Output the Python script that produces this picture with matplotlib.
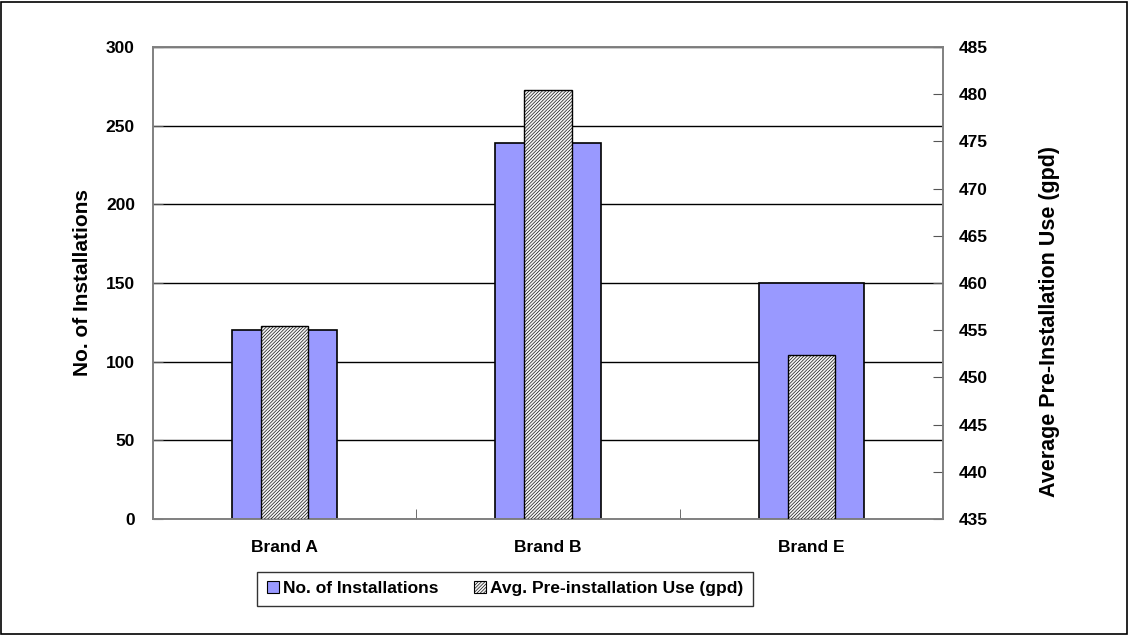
import matplotlib.pyplot as plt
import numpy as np
from matplotlib.patches import Rectangle, Patch

brands = ['Brand A', 'Brand B', 'Brand E']
installations = [120, 239, 150]
avg_use = [455.4, 480.4, 452.4]
use_base = 435

plt.rcParams['font.family'] = ['Liberation Sans', 'DejaVu Sans']
plt.rcParams['font.weight'] = 'bold'
plt.rcParams['hatch.color'] = '#333333'
plt.rcParams['hatch.linewidth'] = 0.45

fig = plt.figure(figsize=(11.29, 6.35), dpi=100)
ax = fig.add_axes([0.1355, 0.1827, 0.6998, 0.7433])
x = np.arange(len(brands))

# gridlines behind the bars
ax.set_axisbelow(True)
ax.yaxis.grid(True, color='black', linewidth=1)
ax.bar(x, installations, width=0.4, color='#9999FF', edgecolor='black',
       linewidth=1.2, zorder=2)

ax2 = ax.twinx()
ax2.bar(x, np.array(avg_use) - use_base, bottom=use_base, width=0.18,
        color='#f2f2f2', edgecolor='black', hatch='//////////', linewidth=1, zorder=3)

ax.set_xlim(-0.5, 2.5)
ax.set_ylim(0, 300)
ax.set_yticks(range(0, 301, 50))
ax2.set_ylim(435, 485)
ax2.set_yticks(range(435, 486, 5))

ax.set_xticks(x)
ax.set_xticklabels(brands, fontsize=12.5, fontweight='bold')
ax.set_xticks([0.5, 1.5], minor=True)
ax.tick_params(axis='x', which='major', length=0, pad=15)
ax.tick_params(axis='x', which='minor', direction='in', length=7, color='#555555')
ax.tick_params(axis='y', direction='in', length=7, pad=13, labelsize=12.5,
               color='#555555')
ax2.tick_params(axis='y', direction='in', length=7, pad=11.5, labelsize=12.5,
                color='#555555')

for a in (ax, ax2):
    for s in a.spines.values():
        s.set_color('#808080')
        s.set_linewidth(1.2)

ax.set_ylabel('No. of Installations', fontsize=15, fontweight='bold', labelpad=10)
ax2.set_ylabel('Average Pre-Installation Use (gpd)', fontsize=15.5,
               fontweight='bold')
ax2.yaxis.set_label_coords(1.121, 0.418)

handles = [Patch(facecolor='#9999FF', edgecolor='black', linewidth=0.8),
           Patch(facecolor='#f2f2f2', edgecolor='black', hatch='//////////', linewidth=0.8)]
fig.legend(handles, ['No. of Installations', 'Avg. Pre-installation Use (gpd)'],
           loc='center', bbox_to_anchor=(0.4475, 0.073), ncol=2, frameon=True,
           fancybox=False, edgecolor='black', fontsize=12.5,
           handlelength=0.7, handleheight=0.7, handletextpad=0.25,
           columnspacing=2.0, borderpad=0.55)

fig.add_artist(Rectangle((0.001, 0.0015), 0.997, 0.996, transform=fig.transFigure,
                         fill=False, edgecolor='black', linewidth=1.2))

fig.savefig('out.png', dpi=100)
